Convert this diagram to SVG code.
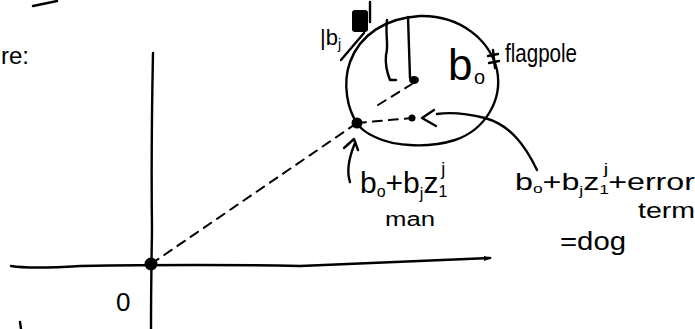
<svg xmlns="http://www.w3.org/2000/svg" width="695" height="329" viewBox="0 0 695 329">
<style>
.ink{fill:none;stroke:#000;stroke-width:2.4;stroke-linecap:round;stroke-linejoin:round}
.dash{fill:none;stroke:#000;stroke-width:2;stroke-dasharray:9 7;stroke-linecap:round}
.t{font-family:"Liberation Sans","DejaVu Sans",sans-serif;fill:#000}
</style>
<rect width="695" height="329" fill="#fff"/>
<g id="top-fragment">
<path class="ink" d="M33 6 L57 1"/>
<text class="t" x="1" y="64" font-size="24">re:</text>
</g>
<g id="axes">
<path class="ink" d="M153 53 Q151 150 152 230 Q151 290 151 329"/>
<path class="ink" d="M11 266 Q30 269 80 266 Q200 264 300 266 Q400 262 490 258"/>
<path d="M484 256 L492 258 L484 261 Z" fill="#000"/>
<path class="ink" d="M20 322 L21 329"/>
</g>
<g id="origin">
<circle cx="151" cy="264" r="6.5" fill="#000"/>
<text class="t" x="116" y="311" font-size="26">0</text>
</g>
<g id="circle">
<path class="ink" d="M357 123 C348 110 342 85 350 62 C360 35 385 18 420 16 C460 15 490 40 497 70 C503 100 485 130 455 140 C430 148 395 147 375 137 C366 133 360 128 357 123"/>
</g>
<g id="flagpole">
<path class="ink" d="M387 20 C385 35 389 45 386 55 C385 65 388 75 390 80 L396 80"/>
<path class="ink" d="M408 17 L410 78"/>
<ellipse cx="414" cy="80" rx="5" ry="4" fill="#000"/>
</g>
<g id="bj-label">
<text class="t" x="320" y="45" font-size="22">|b<tspan font-size="14" dy="4">j</tspan></text>
<rect x="352" y="10" width="16" height="22" rx="3" fill="#000"/>
<path class="ink" d="M370 2 L370 22 M341 60 L364 33"/>
</g>
<g id="b0-label">
<text class="t" x="448" y="80" font-size="44">b</text>
<text class="t" x="474" y="84" font-size="20">o</text>
<path class="ink" d="M488 56 L498 54 M489 63 L499 61 M493 50 L495 68"/>
<text class="t" x="505" y="62" font-size="26" textLength="72" lengthAdjust="spacingAndGlyphs">flagpole</text>
</g>
<g id="man-point">
<circle cx="357" cy="123" r="5.5" fill="#000"/>
<text class="t" x="360" y="193" font-size="30">b<tspan font-size="16" dy="4">o</tspan><tspan dy="-4">+b</tspan><tspan font-size="16" dy="6">j</tspan><tspan dy="-6">z</tspan><tspan font-size="16" dy="4">1</tspan><tspan font-size="18" dx="-6" dy="-22">j</tspan></text>
<text class="t" x="385" y="226" font-size="20" textLength="50" lengthAdjust="spacingAndGlyphs">man</text>
</g>
<g id="dog-point">
<circle cx="412" cy="118" r="3.5" fill="#000"/>
<text class="t" x="515" y="190" font-size="24" textLength="180" lengthAdjust="spacingAndGlyphs">b<tspan font-size="13" dy="3">o</tspan><tspan dy="-3">+b</tspan><tspan font-size="13" dy="5">j</tspan><tspan dy="-5">z</tspan><tspan font-size="13" dy="4">1</tspan><tspan font-size="15" dx="-4" dy="-20">j</tspan><tspan dy="16">+error</tspan></text>
<text class="t" x="638" y="218" font-size="22" textLength="57" lengthAdjust="spacingAndGlyphs">term</text>
<text class="t" x="560" y="250" font-size="26" textLength="66" lengthAdjust="spacingAndGlyphs">=dog</text>
</g>
<g id="connectors">
<path class="dash" d="M151 264 L357 123"/>
<path class="dash" d="M357 123 L412 118"/>
<path class="dash" d="M378 105 L412 84"/>
<path class="ink" d="M350 182 C346 170 350 155 355 143"/>
<path class="ink" d="M344 148 L354 139 L358 150"/>
<path class="ink" d="M537 170 C525 145 510 125 485 118 C465 113 450 112 437 114"/>
<path class="ink" d="M434 110 L422 118 L436 126"/>
</g>
</svg>
